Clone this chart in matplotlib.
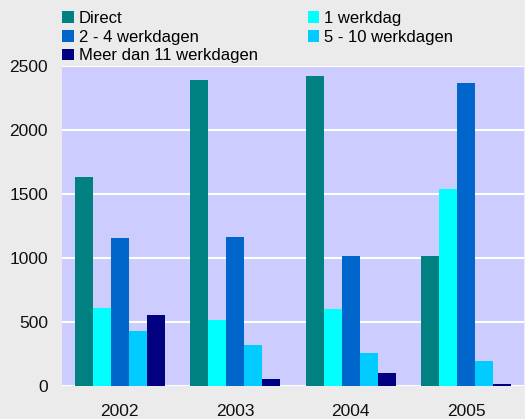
import matplotlib.pyplot as plt
import numpy as np

plt.rcParams['font.family'] = ['Liberation Sans', 'DejaVu Sans']

years = ["2002", "2003", "2004", "2005"]
series = ["Direct", "1 werkdag", "2 - 4 werkdagen", "5 - 10 werkdagen", "Meer dan 11 werkdagen"]
direct = [1630, 2390, 2420, 1015]
werkdag_1 = [610, 515, 600, 1540]
werkdagen_2_4 = [1155, 1165, 1015, 2365]
werkdagen_5_10 = [430, 320, 258, 195]
meer_11 = [555, 55, 100, 15]
colors = ["#008080", "#00FFFF", "#0066CC", "#00CCFF", "#000080"]

values = [direct, werkdag_1, werkdagen_2_4, werkdagen_5_10, meer_11]

W, H = 525, 419
fig = plt.figure(figsize=(W / 100, H / 100), dpi=100, facecolor="#EBEBEB")
ax = fig.add_axes([62 / W, (H - 386) / H, (524 - 62) / W, (386 - 66) / H])
ax.set_facecolor("#CCCCFF")

x = np.arange(len(years))
width = 0.155
bars = []
for i, (name, vals, c) in enumerate(zip(series, values, colors)):
    b = ax.bar(x + (i - 2) * width, vals, width, color=c, label=name, zorder=3)
    bars.append(b)

ax.set_xlim(-0.5, 3.5)
ax.set_ylim(0, 2500)
ax.set_yticks(range(0, 2501, 500))
ax.set_xticks(x)
ax.set_xticklabels(years)
ax.grid(axis="y", color="white", linewidth=1.5, zorder=1)
for s in ax.spines.values():
    s.set_visible(False)
ax.tick_params(length=0, labelsize=12.5, colors="#111111")
ax.tick_params(axis="x", pad=13)
ax.tick_params(axis="y", pad=10)

# matplotlib fills legend columns first: left column Direct / 2-4 / Meer
order = [0, 2, 4, 1, 3]
fig.legend([bars[i] for i in order], [series[i] for i in order],
           ncol=2, loc="upper left", bbox_to_anchor=(62 / W, 1 - 11 / H),
           frameon=False, fontsize=12, handlelength=0.7, handleheight=0.7,
           handletextpad=0.3, labelspacing=0.22, columnspacing=3.0,
           borderaxespad=0, borderpad=0)

fig.savefig("out.png", dpi=100, facecolor=fig.get_facecolor())
